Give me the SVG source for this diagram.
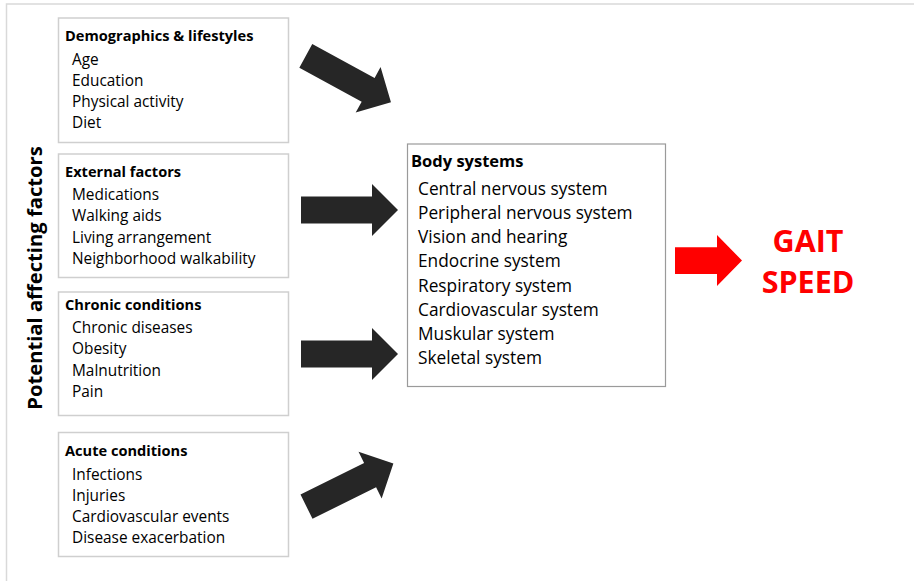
<svg xmlns="http://www.w3.org/2000/svg" width="914" height="581" viewBox="0 0 914 581">
  <defs>
    <style>
      .frame { fill: none; stroke: #d9d9d9; stroke-width: 1.5; }
      .box { fill: #ffffff; stroke: #cfcfcf; stroke-width: 1.5; }
      .bodybox { fill: #ffffff; stroke: #9a9a9a; stroke-width: 1.2; }
      .t { font-family: "Open Sans", "Noto Sans", "Liberation Sans", sans-serif; fill: #000000; }
      .title { font-weight: bold; font-size: 14.6px; }
      .item { font-size: 15.4px; }
      .btitle { font-weight: bold; font-size: 16.5px; }
      .bitem { font-size: 17.3px; }
      .side { font-weight: bold; font-size: 20.2px; }
      .gait { font-family: "Open Sans", "Noto Sans", "Liberation Sans", sans-serif; font-weight: bold; font-size: 30.5px; fill: #ff0000; }
      .arrow { fill: #262626; }
      .redarrow { fill: #ff0000; }
    </style>
    <polygon id="arr" points="0,-13.5 71,-13.5 71,-26 97,0 71,26 71,13.5 0,13.5"/>
  </defs>
  <rect width="914" height="581" fill="#ffffff"/>
  <path class="frame" d="M6.5,581 V4 H914"/>

  <g id="side-label">
    <text class="t side" transform="translate(42,278) rotate(-90)" text-anchor="middle">Potential affecting factors</text>
  </g>

  <g id="demographics">
    <rect class="box" x="58.5" y="18" width="230" height="124.5"/>
    <text class="t title" x="65" y="41">Demographics &amp; lifestyles</text>
    <text class="t item" x="72" y="65">Age</text>
    <text class="t item" x="72" y="86">Education</text>
    <text class="t item" x="72" y="107">Physical activity</text>
    <text class="t item" x="72" y="128">Diet</text>
  </g>

  <g id="external">
    <rect class="box" x="58.5" y="154" width="230" height="123.5"/>
    <text class="t title" x="65" y="177">External factors</text>
    <text class="t item" x="72" y="200">Medications</text>
    <text class="t item" x="72" y="221">Walking aids</text>
    <text class="t item" x="72" y="243">Living arrangement</text>
    <text class="t item" x="72" y="264">Neighborhood walkability</text>
  </g>

  <g id="chronic">
    <rect class="box" x="58.5" y="292" width="230" height="123.5"/>
    <text class="t title" x="65" y="310">Chronic conditions</text>
    <text class="t item" x="72" y="333">Chronic diseases</text>
    <text class="t item" x="72" y="354">Obesity</text>
    <text class="t item" x="72" y="376">Malnutrition</text>
    <text class="t item" x="72" y="397">Pain</text>
  </g>

  <g id="acute">
    <rect class="box" x="58.5" y="432.5" width="230" height="124"/>
    <text class="t title" x="65" y="456">Acute conditions</text>
    <text class="t item" x="72" y="480">Infections</text>
    <text class="t item" x="72" y="501">Injuries</text>
    <text class="t item" x="72" y="522">Cardiovascular events</text>
    <text class="t item" x="72" y="543">Disease exacerbation</text>
  </g>

  <g id="body-systems">
    <rect class="bodybox" x="407.5" y="144" width="258" height="242.5"/>
    <text class="t btitle" x="411" y="167">Body systems</text>
    <text class="t bitem" x="418" y="195">Central nervous system</text>
    <text class="t bitem" x="418" y="219">Peripheral nervous system</text>
    <text class="t bitem" x="418" y="243">Vision and hearing</text>
    <text class="t bitem" x="418" y="267">Endocrine system</text>
    <text class="t bitem" x="418" y="292">Respiratory system</text>
    <text class="t bitem" x="418" y="316">Cardiovascular system</text>
    <text class="t bitem" x="418" y="340">Muskular system</text>
    <text class="t bitem" x="418" y="364">Skeletal system</text>
  </g>

  <g id="gait-speed">
    <text class="gait" x="808" y="252" text-anchor="middle">GAIT</text>
    <text class="gait" x="808" y="293" text-anchor="middle">SPEED</text>
  </g>

  <g id="connectors">
    <use href="#arr" class="arrow" transform="translate(305.8,55.8) rotate(28.6)"/>
    <use href="#arr" class="arrow" transform="translate(301,210)"/>
    <use href="#arr" class="arrow" transform="translate(301,354)"/>
    <use href="#arr" class="arrow" transform="translate(306.5,506.7) rotate(-26.4)"/>
    <polygon class="redarrow" points="675,247.3 717,247.3 717,235 742,260.5 717,286 717,274 675,274"/>
  </g>
</svg>
